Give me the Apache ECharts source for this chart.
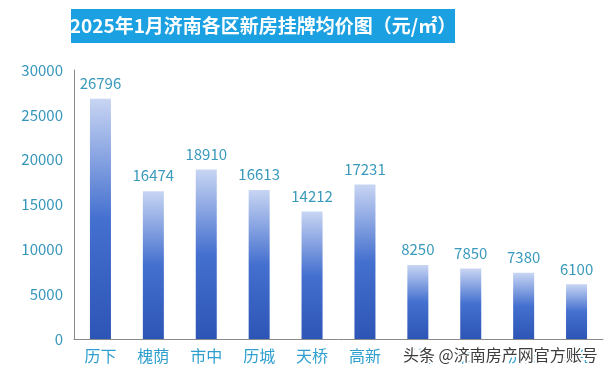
<!DOCTYPE html>
<html><head><meta charset="utf-8">
<script src="https://cdn.jsdelivr.net/npm/echarts@6/dist/echarts.min.js"></script>
<style>html,body{margin:0;padding:0;background:#fff}#c{width:608px;height:379px}</style>
</head><body><div id="c"></div>
<script>
const titleText = '2025年1月济南各区新房挂牌均价图（元/㎡）';
const categories = ['历下','槐荫','市中','历城','天桥','高新','长清','章丘','济阳','莱芜'];
const prices = [26796,16474,18910,16613,14212,17231,8250,7850,7380,6100];
const yTicks = {min:0, max:30000, interval:5000};
const watermark = '头条 @济南房产网官方账号';
const FONT = '"Noto Sans CJK SC", "Noto Sans", sans-serif';

const chart = echarts.init(document.getElementById('c'));
chart.setOption({
  backgroundColor:'#ffffff',
  animation:false,
  grid:{left:74, right:5, top:70, bottom:40},
  xAxis:{
    type:'category', data:categories,
    axisLine:{show:true, lineStyle:{color:'#8a8a8a', width:1}},
    axisTick:{show:false},
    axisLabel:{color:'#2f9fcf', fontSize:16, fontFamily:FONT, margin:9}
  },
  yAxis:{
    type:'value', min:yTicks.min, max:yTicks.max, interval:yTicks.interval,
    axisLine:{show:true, lineStyle:{color:'#8a8a8a', width:1}},
    axisTick:{show:false},
    splitLine:{show:false},
    axisLabel:{color:'#3596bb', fontSize:15, fontFamily:FONT, margin:11, formatter:v => String(v)}
  },
  series:[{
    type:'bar', data:prices, barWidth:21,
    itemStyle:{color:new echarts.graphic.LinearGradient(0,0,0,1,[
      {offset:0, color:'#c8d5f3'},
      {offset:0.5, color:'#4470cf'},
      {offset:1, color:'#2d55b6'}
    ])},
    label:{show:true, position:'top', distance:8, color:'#3a9abb', fontSize:15, fontFamily:FONT}
  }],
  graphic:[
    {type:'rect', shape:{x:71, y:9, width:384, height:34}, style:{fill:'#1ba1e2'}},
    {type:'text', x:263, y:26, style:{text:titleText, fill:'#ffffff', font:'bold 19px ' + FONT, textAlign:'center', textVerticalAlign:'middle'}},
    {type:'text', x:403, y:355, z:100, style:{text:watermark, fill:'#3d3d3d', stroke:'#ffffff', lineWidth:4, font:'16px ' + FONT, textAlign:'left', textVerticalAlign:'middle'}}
  ]
});
</script></body></html>
